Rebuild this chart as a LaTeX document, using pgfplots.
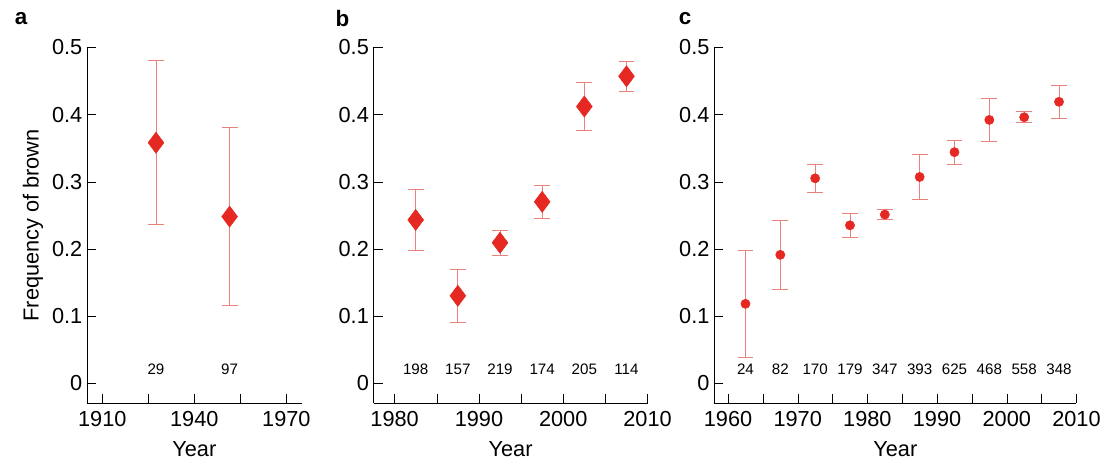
\documentclass[border=0pt]{standalone}
\usepackage{pgfplots}
\pgfplotsset{compat=1.18}
\usepackage{fontspec}
\setmainfont{Liberation Sans}
\definecolor{eb}{RGB}{232,130,125}
\definecolor{mk}{RGB}{230,40,35}
\pgfplotsset{
 panel/.style={scale only axis, height=270pt, ymin=-0.03, ymax=0.5,
  axis x line*=bottom, axis y line*=left, tick align=inside,
  ytick={0,0.1,...,0.5}, yticklabels={0,0.1,0.2,0.3,0.4,0.5},
  tick style={black, major tick length=7pt}, axis line style={black},
  ticklabel style={font=\fontsize{16.5}{19}\selectfont},
  x tick label style={yshift=-3pt},
  label style={font=\fontsize{16.5}{19}\selectfont},
  xlabel={Year}, xlabel style={yshift=-4pt}, x tick label style={/pgf/number format/1000 sep={}},
  /pgf/number format/assume math mode=true,
  clip=false},
 ser/.style={only marks, mk,
  mark options={fill=mk, draw=mk},
  error bars/.cd, y dir=both, y explicit,
  error bar style={eb, line width=0.6pt}, error mark options={eb, mark size=6pt, rotate=90, line width=0.6pt}},
}
\newcommand{\cnt}[2]{\node[font=\fontsize{11.5}{13}\selectfont] at (axis cs:#1,0.02) {#2};}
\begin{document}
\begin{tikzpicture}[x=1pt,y=1pt]
\path (0,0) rectangle (828.75,351.75);
\node[font=\bfseries\fontsize{17}{20}\selectfont] at (16,338) {a};
\node[font=\bfseries\fontsize{17}{20}\selectfont] at (260,338) {b};
\node[font=\bfseries\fontsize{17}{20}\selectfont] at (520,338) {c};
\begin{axis}[panel, at={(66pt,45.75pt)}, width=163pt, xmin=1905, xmax=1975,
 xtick={1910,1940,1970}, minor xtick={1925,1955}, minor tick length=7pt,
 ylabel={Frequency of brown}]
\addplot+[mark=diamond*, mark size=8pt, ser] coordinates {(1927.5,0.358) +- (0,0.122) (1951.5,0.248) +- (0,0.133)};
\cnt{1927.5}{29}\cnt{1951.5}{97}
\end{axis}
\begin{axis}[panel, at={(283.5pt,45.75pt)}, width=208pt, xmin=1977.5, xmax=2010,
 xtick={1980,1990,2000,2010}, minor xtick={1985,1995,2005}, minor tick length=7pt]
\addplot+[mark=diamond*, mark size=8pt, ser] coordinates {(1982.5,0.243) +- (0,0.045) (1987.5,0.130) +- (0,0.039)
 (1992.5,0.209) +- (0,0.019) (1997.5,0.270) +- (0,0.024) (2002.5,0.412) +- (0,0.036)
 (2007.5,0.457) +- (0,0.022)};
\cnt{1982.5}{198}\cnt{1987.5}{157}\cnt{1992.5}{219}\cnt{1997.5}{174}\cnt{2002.5}{205}\cnt{2007.5}{114}
\end{axis}
\begin{axis}[panel, at={(542pt,45.75pt)}, width=275pt, xmin=1958, xmax=2010,
 xtick={1960,1970,...,2010}, minor xtick={1965,1975,...,2005}, minor tick length=7pt]
\addplot+[mark=*, mark size=3.5pt, ser] coordinates {(1962.5,0.118) +- (0,0.080) (1967.5,0.191) +- (0,0.051)
 (1972.5,0.305) +- (0,0.021) (1977.5,0.235) +- (0,0.018) (1982.5,0.251) +- (0,0.007)
 (1987.5,0.307) +- (0,0.033) (1992.5,0.344) +- (0,0.018) (1997.5,0.392) +- (0,0.032)
 (2002.5,0.396) +- (0,0.008) (2007.5,0.419) +- (0,0.025)};
\cnt{1962.5}{24}\cnt{1967.5}{82}\cnt{1972.5}{170}\cnt{1977.5}{179}\cnt{1982.5}{347}
\cnt{1987.5}{393}\cnt{1992.5}{625}\cnt{1997.5}{468}\cnt{2002.5}{558}\cnt{2007.5}{348}
\end{axis}
\end{tikzpicture}
\end{document}
